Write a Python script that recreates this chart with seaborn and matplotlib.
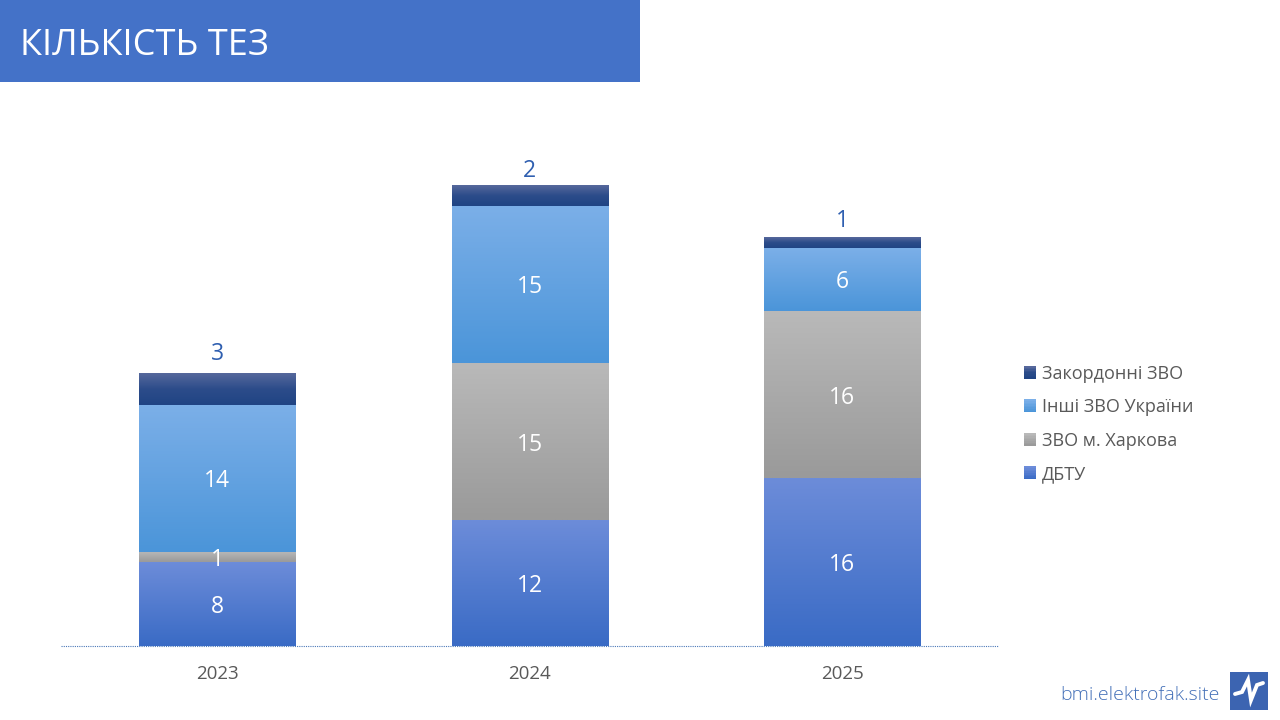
import numpy as np
import matplotlib
matplotlib.use('Agg')
import matplotlib.pyplot as plt
from matplotlib.patches import Rectangle, Patch
from matplotlib.colors import LinearSegmentedColormap
from matplotlib.legend_handler import HandlerBase
import seaborn as sns

sns.set_theme(style='white')
plt.rcParams['font.family'] = ['Open Sans', 'DejaVu Sans']

# data
years = ['2023', '2024', '2025']
dbtu = [8, 12, 16]
kharkiv = [1, 15, 16]
ukraine = [14, 15, 6]
abroad = [3, 2, 1]

names = ['ДБТУ', 'ЗВО м. Харкова', 'Інші ЗВО України', 'Закордонні ЗВО']
series = [dbtu, kharkiv, ukraine, abroad]
# gradient of each series, bottom to top
grads = [['#3a6bc5', '#6c8cd9'], ['#9a9a9a', '#b9b9b9'],
         ['#4b95d9', '#7bafe8'], ['#204484', '#2c4c8a', '#56689c']]
# the top labels do not sit at one distance from the bars
top_offsets = [14.3, 10, 11.4]

W, H = 1280, 720
fig = plt.figure(figsize=(W / 100, H / 100), dpi=100, facecolor='white')

def px_axes(x0, y0, x1, y1):
    # axes from pixel box, y from the top
    return fig.add_axes([x0 / W, 1 - y1 / H, (x1 - x0) / W, (y1 - y0) / H])

ax = px_axes(61.2, 100, 998.2, 646)

bottom = np.zeros(3)
for vals, name, g in zip(series, names, grads):
    sns.barplot(x=years, y=vals, bottom=bottom, width=0.5, color=g[0],
                saturation=1, ax=ax, zorder=2)
    bottom = bottom + np.array(vals)

# gradient fill on the bars
for c, g in zip(ax.containers, grads):
    cmap = LinearSegmentedColormap.from_list('g', g)
    for p in c.patches:
        x, y, w, h = p.get_x(), p.get_y(), p.get_width(), p.get_height()
        ax.imshow(np.linspace(1, 0, 64).reshape(-1, 1), cmap=cmap, vmin=0, vmax=1,
                  extent=[x, x + w, y, y + h], aspect='auto', zorder=3)
        p.set_visible(False)

# scale: 10.48 px per thesis
ax.set_xlim(-0.5, 2.5)
ax.set_ylim(0, 546 / 10.48)

# value labels
bottom = np.zeros(3)
for i, vals in enumerate(series):
    for j, v in enumerate(vals):
        if i < 3:
            ax.annotate(str(v), (j, bottom[j] + v / 2), xytext=(0, -2.2), textcoords='offset points',
                        color='white', fontsize=16.5, ha='center', va='center', zorder=5)
        else:
            ax.annotate(str(v), (j, bottom[j] + v), xytext=(0, top_offsets[j]), textcoords='offset points',
                        color='#2f5fb0', fontsize=16.5, ha='center', va='center', zorder=5)
    bottom = bottom + np.array(vals)

sns.despine(ax=ax, left=True)
ax.spines['bottom'].set_color('#4a78b8')
ax.spines['bottom'].set_capstyle('butt')
ax.spines['bottom'].set_linestyle((0, (1, 1)))
ax.spines['bottom'].set_linewidth(0.8)
ax.set_yticks([])
ax.tick_params(axis='x', length=0, pad=14, labelsize=13.5, labelcolor='#595959')
ax.patch.set_alpha(0)

# legend, markers carry the same gradient as the bars
class GradHandler(HandlerBase):
    def create_artists(self, legend, orig, xd, yd, width, height, fontsize, trans):
        cmap = LinearSegmentedColormap.from_list('g', orig.grad)
        n = 8
        return [Rectangle((-xd, -yd + height * k / n), width, height / n + 0.2,
                          facecolor=cmap(k / (n - 1)), edgecolor='none', transform=trans)
                for k in range(n)]

handles = []
for g, n in zip(grads, names):
    h = Patch(label=n)
    h.grad = g
    handles.append(h)
fig.legend(handles=handles[::-1], loc='center left', bbox_to_anchor=(1008 / W, 1 - 424 / H),
           frameon=False, fontsize=13, labelcolor='#595959', handlelength=0.65,
           handleheight=0.7, handletextpad=0.35, labelspacing=0.86,
           handler_map={Patch: GradHandler()})

# title band
fig.add_artist(Rectangle((0, 1 - 82 / H), 640 / W, 82 / H, transform=fig.transFigure,
                         facecolor='#4472c8', edgecolor='none'))
fig.text(20 / W, 1 - 55 / H, 'КІЛЬКІСТЬ ТЕЗ', color='white', fontsize=26, ha='left',
         va='baseline')

# footer
fig.text(1220 / W, 1 - 695.5 / H, 'bmi.elektrofak.site', color='#4470b8', fontsize=14,
         ha='right', va='center', fontweight='light')
logo = px_axes(1230, 672, 1268, 710)
logo.set_facecolor('#3c64b1')
logo.set_xticks([])
logo.set_yticks([])
for s in logo.spines.values():
    s.set_visible(False)
logo.set_xlim(0, 38)
logo.set_ylim(38, 0)
logo.plot([5, 12, 18, 21, 27, 33], [22, 20, 8, 28, 13, 11], color='white', lw=2.8,
          solid_joinstyle='miter')

fig.savefig('out.png', dpi=100)
